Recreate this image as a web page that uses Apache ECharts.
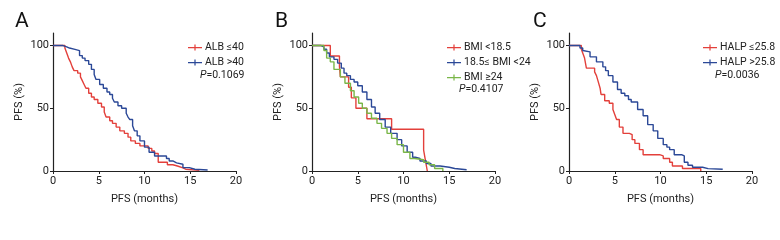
<!DOCTYPE html>
<html>
<head>
<meta charset="utf-8">
<script src="https://cdn.jsdelivr.net/npm/echarts@6/dist/echarts.min.js"></script>
<style>
  html, body { margin: 0; padding: 0; background: #fff; }
  #chart { width: 780px; height: 240px; }
</style>
</head>
<body>
<div id="chart"></div>
<script>
// Kaplan-Meier steps: [months, PFS %]
const albLow = [[0,100],[1.3,98],[1.5,94],[1.7,90],[1.9,87],[2.1,83],[2.3,80],[2.7,78],[3.0,75],[3.2,72],[3.4,69],[3.6,66],[3.9,62],[4.2,59],[4.5,57],[4.9,54],[5.3,51],[5.6,47],[5.8,43],[6.2,40],[6.5,38],[6.9,35],[7.3,32],[7.8,30],[8.2,27],[8.5,24],[9.0,22],[9.5,20],[10.4,18],[10.8,16],[11.1,14],[11.5,7],[12.5,5],[13.1,4],[13.6,2.5],[14.2,1.4],[14.5,0.5],[16.0,0.5]];
const albHigh = [[0,100],[1.1,99],[1.5,98],[1.8,97],[2.4,96],[2.9,92],[3.2,90],[3.5,88],[3.9,85],[4.2,81],[4.5,77],[4.7,73],[5.1,69],[5.5,66],[5.9,63],[6.2,61],[6.5,58],[6.7,55],[7.1,52],[7.5,50],[8.0,46],[8.2,43],[8.4,41],[8.7,36],[8.9,32],[9.2,28],[9.5,24],[10.0,19],[10.5,15],[11.1,12],[12.4,10],[12.7,8],[13.1,6.5],[13.5,5.4],[14.2,2.7],[14.9,1.4],[15.5,0.8],[16.9,0.8]];

const bmiLow = [[0,100],[2.0,91.7],[3.0,83.3],[3.1,75],[4.0,66.7],[4.3,58.3],[4.8,50],[6.0,41.7],[8.7,33.3],[12.2,16.7],[12.4,8.3],[12.6,0]];
const bmiMid = [[0,100],[1.0,99],[1.3,97],[1.6,94],[1.9,91],[2.4,89],[2.8,86],[3.2,82],[3.5,78],[3.8,76],[4.2,73],[4.6,71],[5.0,68],[5.5,63],[6.0,57],[6.5,51],[6.9,46],[7.4,41],[8.0,35],[8.6,30],[9.3,25],[9.8,20],[10.4,15],[11.0,11],[11.3,10],[11.8,8],[12.5,6],[13.0,4],[14.0,3],[15.0,2],[15.6,1],[16.9,1]];
const bmiHigh = [[0,100],[1.3,96],[1.6,90],[2.0,87],[2.4,81],[3.1,75],[3.6,70],[4.2,64],[4.6,59],[5.1,54],[5.5,50],[6.0,46],[6.5,42],[7.1,38],[7.6,34],[8.2,30],[8.7,26],[9.3,21],[10.0,15],[10.7,10],[11.2,9],[12.2,7],[12.8,5],[13.4,2],[14.3,0]];

const halpLow = [[0,100],[1.35,97],[1.5,94],[1.7,90],[1.9,82],[2.8,79],[3.0,76],[3.2,71],[3.4,66],[3.5,61],[3.9,56],[4.4,54],[4.8,49],[5.0,45],[5.2,41],[5.5,35],[5.9,30],[6.6,29],[6.9,25],[7.2,22],[7.7,17],[8.1,13],[9.9,12],[10.3,10],[11.0,7],[11.3,4],[12.4,2],[14.4,0]];
const halpHigh = [[0,100],[1.2,98],[1.5,96],[1.7,95],[2.3,91],[3.0,87],[3.7,83],[4.0,80],[4.3,76],[4.8,71],[5.3,65],[5.7,62],[6.1,60],[6.5,57],[6.8,55],[7.5,49],[8.1,44],[8.6,37],[9.2,32],[9.7,26],[10.3,21],[10.7,19],[11.0,17],[11.5,13],[12.3,12],[12.6,7],[13.0,4.6],[13.5,3],[14.6,1.9],[15.2,1.4],[16.8,1.4]];

const panelLetters = ['A', 'B', 'C'];
const pValues = ['0.1069', '0.4107', '0.0036'];
const yTicks = [0, 50, 100];

const RED = '#e3403b', BLUE = '#2b4897', GREEN = '#7ab648';
const FONT = 'Roboto, sans-serif';
const gridLefts = [53, 312, 569];
const legendLefts = [183, 442, 698];

const icon = 'path://M0,6h16v1.4h-16z M7.3,3h1.4v7h-1.4z';

const chart = echarts.init(document.getElementById('chart'));

const grids = gridLefts.map(l => ({ left: l, top: 33, width: 183, height: 138 }));

const xAxes = gridLefts.map((_, i) => ({
  gridIndex: i, type: 'value', min: 0, max: 20, interval: 5,
  name: 'PFS (months)', nameLocation: 'middle', nameGap: 23,
  nameTextStyle: { fontFamily: FONT, fontSize: 11, color: '#222' },
  axisLine: { lineStyle: { color: '#222', width: 1.2 } },
  axisTick: { show: true, length: 3, lineStyle: { color: '#222' } },
  axisLabel: { fontFamily: FONT, fontSize: 11, color: '#222', margin: 5 },
  splitLine: { show: false }
}));

const yAxes = gridLefts.map((_, i) => ({
  gridIndex: i, type: 'value', min: 0, max: 110,
  name: 'PFS (%)', nameLocation: 'middle', nameGap: 28, nameRotate: 90,
  nameTextStyle: { fontFamily: FONT, fontSize: 11, color: '#222' },
  axisLine: { show: true, lineStyle: { color: '#222', width: 1.2 } },
  axisTick: { show: true, length: 3, customValues: yTicks, lineStyle: { color: '#222' } },
  axisLabel: { fontFamily: FONT, fontSize: 11, color: '#222', margin: 4, customValues: yTicks },
  splitLine: { show: false }
}));

function km(name, data, color, idx) {
  return {
    name, type: 'line', step: 'end', data,
    xAxisIndex: idx, yAxisIndex: idx,
    showSymbol: false, symbol: 'none',
    lineStyle: { color, width: 1.4 }, itemStyle: { color },
    animation: false
  };
}

const series = [
  km('ALB ≤40', albLow, RED, 0),
  km('ALB >40', albHigh, BLUE, 0),
  km('BMI <18.5', bmiLow, RED, 1),
  km('18.5≤ BMI <24', bmiMid, BLUE, 1),
  km('BMI ≥24', bmiHigh, GREEN, 1),
  km('HALP ≤25.8', halpLow, RED, 2),
  km('HALP >25.8', halpHigh, BLUE, 2)
];

const legendNames = [
  ['ALB ≤40', 'ALB >40'],
  ['BMI <18.5', '18.5≤ BMI <24', 'BMI ≥24'],
  ['HALP ≤25.8', 'HALP >25.8']
];

const legends = legendNames.map((names, i) => ({
  data: names.map(n => ({ name: n, icon })),
  orient: 'vertical', left: legendLefts[i], top: 37,
  itemWidth: 14, itemHeight: 10, itemGap: 4,
  textStyle: { fontFamily: FONT, fontSize: 10.5, color: '#222', padding: [0, 0, 0, -2] },
  selectedMode: false
}));

const titles = [];
panelLetters.forEach((t, i) => {
  titles.push({
    text: t, left: [10, 270, 528][i], top: 6,
    textStyle: { fontFamily: FONT, fontSize: 21, fontWeight: 'normal', color: '#111' }
  });
  titles.push({
    text: '{i|P}=' + pValues[i],
    left: legendLefts[i] + 17, top: 42 + legendNames[i].length * 14,
    padding: 0,
    textStyle: {
      fontFamily: FONT, fontSize: 10.5, fontWeight: 'normal', color: '#222',
      rich: { i: { fontFamily: FONT, fontSize: 10.5, fontStyle: 'italic', color: '#222' } }
    }
  });
});

chart.setOption({
  animation: false,
  backgroundColor: '#fff',
  title: titles,
  legend: legends,
  grid: grids,
  xAxis: xAxes,
  yAxis: yAxes,
  series
});
</script>
</body>
</html>
